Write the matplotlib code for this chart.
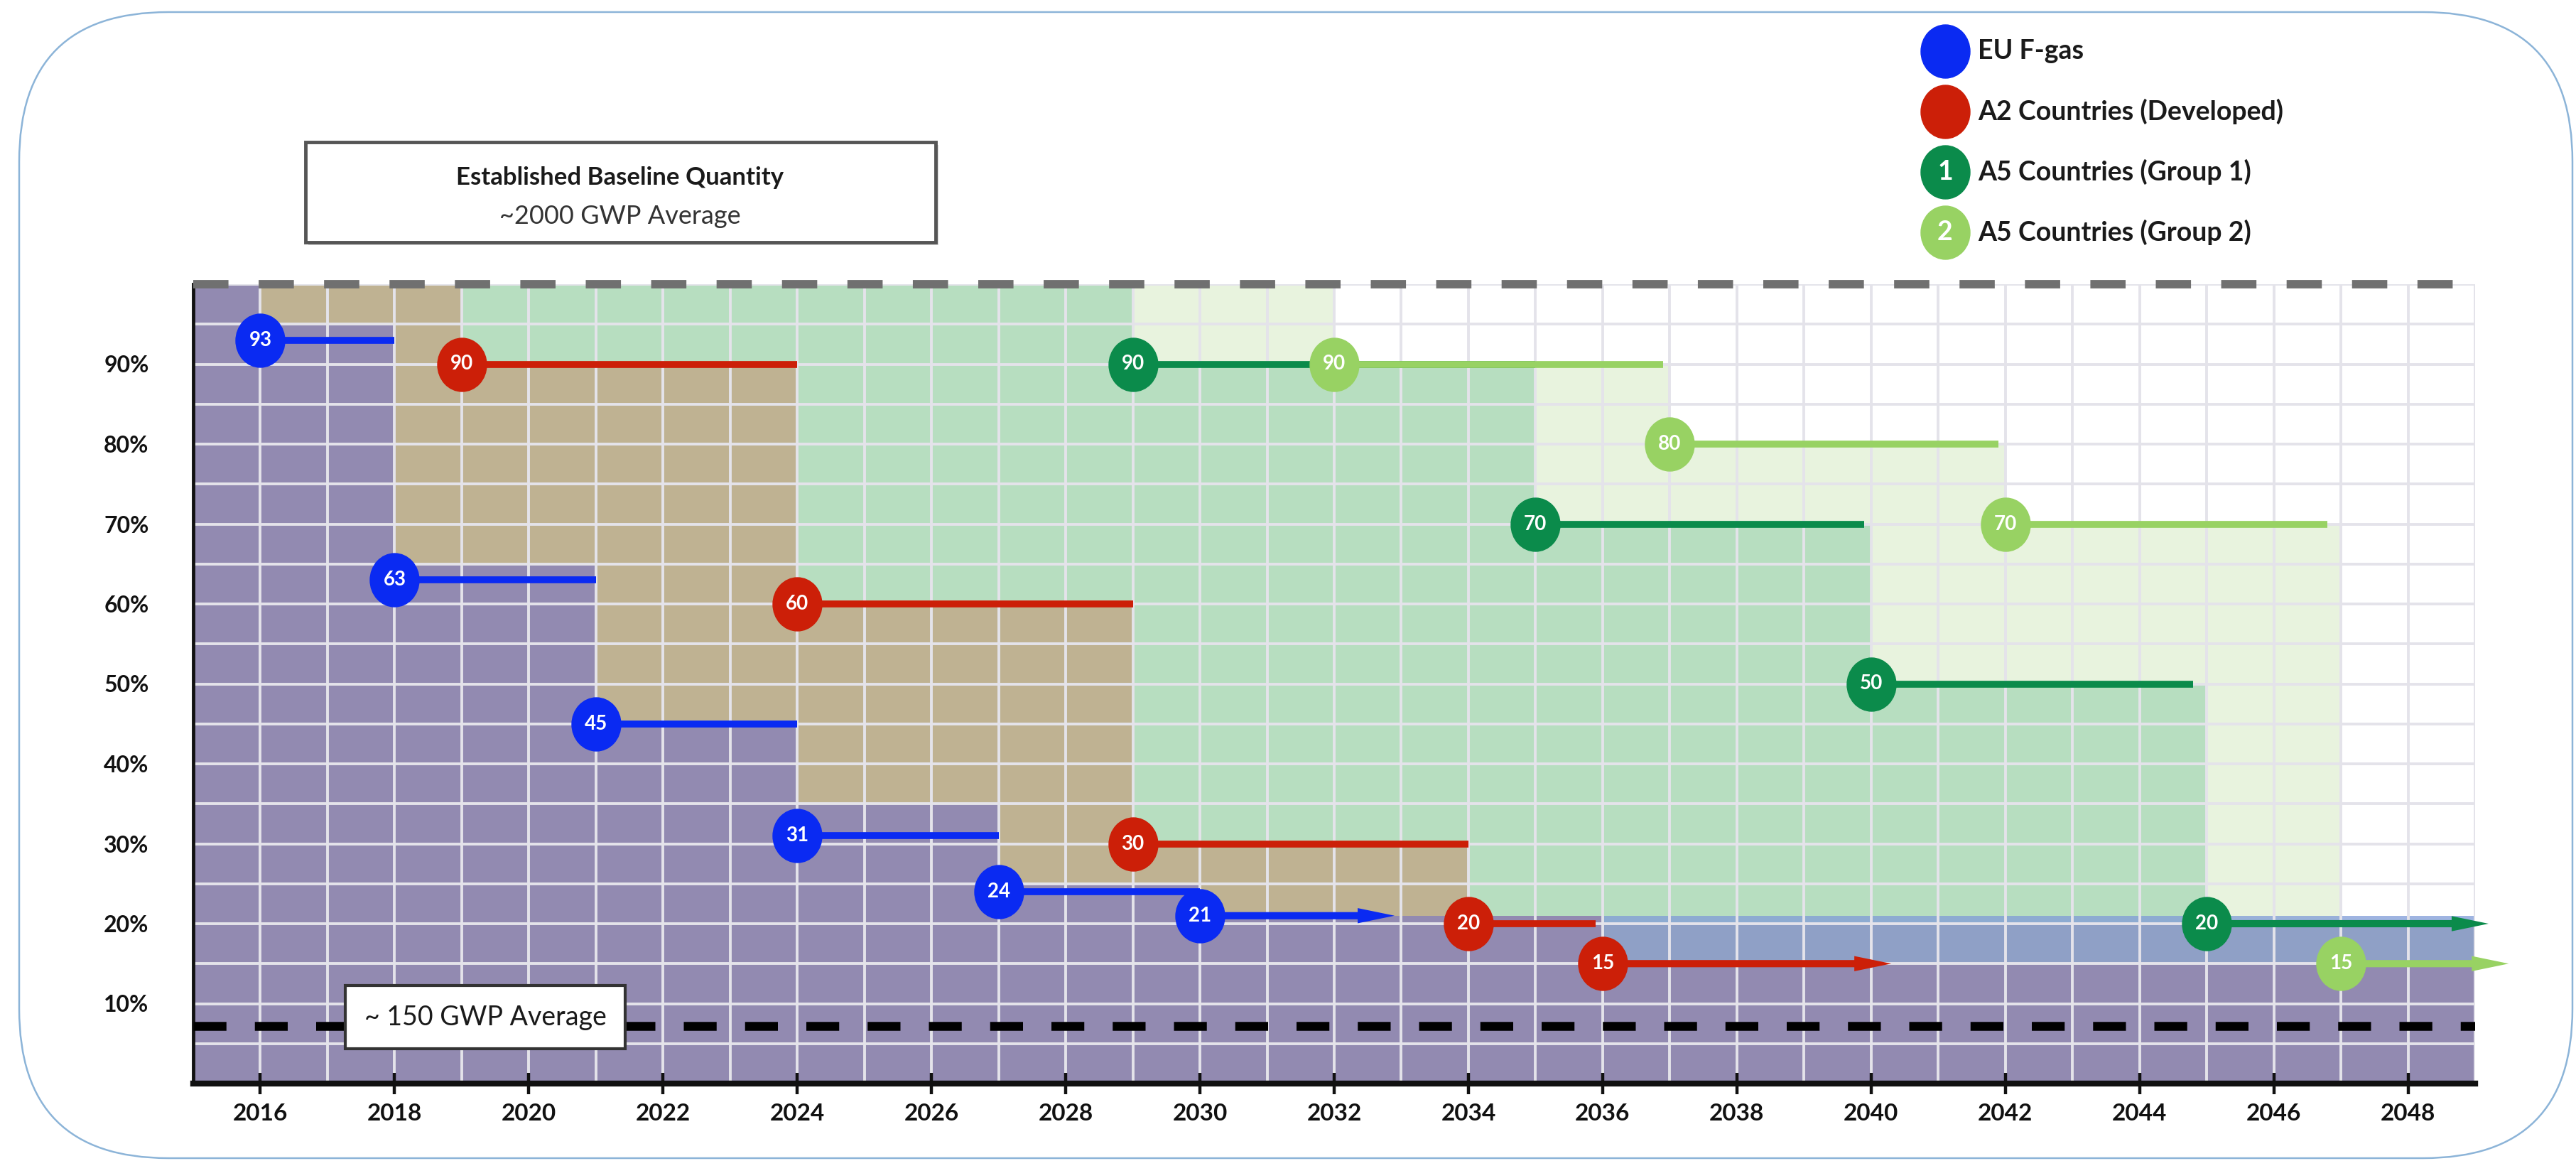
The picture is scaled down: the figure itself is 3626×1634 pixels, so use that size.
import matplotlib
matplotlib.use('Agg')
import matplotlib.pyplot as plt
from matplotlib.patches import FancyBboxPatch, Rectangle
from matplotlib.path import Path
from matplotlib.transforms import Affine2D

plt.rcParams['font.family'] = ['Lato', 'DejaVu Sans']

# --- shaded allowance areas (step edges and level of each step, % of baseline)
eu_area_x = [2015, 2016, 2018, 2021, 2024, 2027, 2030, 2036, 2049]
eu_area_y = [100, 95, 65, 45, 35, 25, 21, 15]
a2_area_x = [2015, 2019, 2024, 2029, 2034, 2049]
a2_area_y = [100, 90, 60, 30, 20]
g1_area_x = [2015, 2029, 2035, 2040, 2045]
g1_area_y = [100, 90, 70, 50]
g2_area_x = [2015, 2032, 2037, 2042, 2047]
g2_area_y = [100, 90, 80, 70]
tail_x = [2036, 2049]
tail_lo = [15, 15]
tail_hi = [21, 21]

# --- phase-down steps: start year, end of bar, percent
eu_start = [2016, 2018, 2021, 2024, 2027, 2030]
eu_end = [2018, 2021, 2024, 2027, 2030, 2032.9]
eu_pct = [93, 63, 45, 31, 24, 21]

a2_start = [2019, 2024, 2029, 2034, 2036]
a2_end = [2024, 2029, 2034, 2035.9, 2040.3]
a2_pct = [90, 60, 30, 20, 15]

g1_start = [2029, 2035, 2040, 2045]
g1_end = [2035, 2039.9, 2044.8, 2049.2]
g1_pct = [90, 70, 50, 20]

g2_start = [2032, 2037, 2042, 2047]
g2_end = [2036.9, 2041.9, 2046.8, 2049.5]
g2_pct = [90, 80, 70, 15]

baseline_gwp = 7.2   # ~150 GWP average level

legend_labels = ['EU F-gas', 'A2 Countries (Developed)', 'A5 Countries (Group 1)', 'A5 Countries (Group 2)']
legend_marks = ['', '', '1', '2']

# colours
c_eu, c_a2, c_g1, c_g2 = '#0a2af2', '#cc1f08', '#0b8b4b', '#98d263'
f_eu, f_a2, f_g1, f_g2 = '#928ab1', '#bfb292', '#b7dec0', '#e8f3de'

# slightly tall oval used for the numbered badges
oval = Path.unit_circle().transformed(Affine2D().scale(0.92, 1.0))

W, H = 3626, 1634
fig = plt.figure(figsize=(W / 100, H / 100), dpi=100)
fig.patch.set_facecolor('white')

ax = fig.add_axes([272 / W, 1 - 1525 / H, (3484 - 272) / W, (1525 - 400) / H])
ax.set_xlim(2015, 2049)
ax.set_ylim(0, 100)
ax.set_facecolor('white')


def step_fill(xs, ys, color):
    ax.fill_between(xs, 0, list(ys) + [ys[-1]], step='post', color=color, lw=0, zorder=1)


step_fill(g2_area_x, g2_area_y, f_g2)
step_fill(g1_area_x, g1_area_y, f_g1)
step_fill(a2_area_x, a2_area_y, f_a2)
ax.fill_between(tail_x, tail_lo, tail_hi, color='#7f9bd8', alpha=0.75, lw=0, zorder=1)
step_fill(eu_area_x, eu_area_y, f_eu)

# grid: every year / every 5 %
ax.set_xticks(range(2016, 2049, 2))
ax.set_xticks(range(2015, 2050), minor=True)
ax.set_yticks(range(10, 100, 10))
ax.set_yticklabels([f'{v}%' for v in range(10, 100, 10)])
ax.set_yticks(range(5, 101, 5), minor=True)
ax.grid(True, which='both', color='#e4e3ea', lw=2.8)

ax.tick_params(axis='x', which='major', direction='inout', length=22, width=3.2,
               pad=9, labelsize=24, colors='#111111')
ax.tick_params(axis='both', which='minor', length=0)
ax.tick_params(axis='y', which='major', length=0, pad=45, labelsize=23, colors='#111111')
for lab in ax.get_xticklabels() + ax.get_yticklabels():
    lab.set_fontweight('bold')

for s in ['top', 'right']:
    ax.spines[s].set_visible(False)
ax.spines['left'].set_linewidth(3.5)
ax.spines['bottom'].set_linewidth(6)
ax.spines['left'].set_color('#111111')
ax.spines['bottom'].set_color('#111111')

# dashed reference lines
ax.axhline(100, color='#707070', lw=8.5, dashes=(4.2, 3.6), zorder=3, clip_on=False)
ax.axhline(baseline_gwp, color='black', lw=9, dashes=(3.7, 3.2), zorder=3)
ax.text(2019.35, 8.3, '~ 150 GWP Average', fontsize=27, ha='center', va='center', zorder=8,
        color='#1a1a1a',
        bbox=dict(boxstyle='square,pad=0.7', fc='white', ec='#333333', lw=3))

# phase-down bars with numbered badges
series = [
    (eu_start, eu_end, eu_pct, c_eu),
    (a2_start, a2_end, a2_pct, c_a2),
    (g1_start, g1_end, g1_pct, c_g1),
    (g2_start, g2_end, g2_pct, c_g2),
]
for starts, ends, pcts, col in series:
    n = len(starts)
    for i, (s, e, p) in enumerate(zip(starts, ends, pcts)):
        if i == n - 1:
            ax.arrow(s, p, e - s, 0, width=0.9, head_width=1.9, head_length=0.55,
                     length_includes_head=True, color=col, lw=0, zorder=5, clip_on=False)
        else:
            ax.plot([s, e], [p, p], color=col, lw=7, solid_capstyle='butt', zorder=5)
    for s, p in zip(starts, pcts):
        ax.plot(s, p, marker=oval, ms=54, color=col, mec=col, ls='none', zorder=6, clip_on=False)
        ax.text(s, p, str(p), color='white', ha='center', va='center', fontsize=20,
                fontweight='bold', zorder=7)

# overlay in pixel coordinates: frame, baseline box, legend
ov = fig.add_axes([0, 0, 1, 1], zorder=10)
ov.set_xlim(0, W)
ov.set_ylim(H, 0)
ov.axis('off')

ov.add_patch(FancyBboxPatch((27, 17), 3594, 1613, boxstyle='round,pad=0,rounding_size=210',
                            fc='none', ec='#8cb4d8', lw=1.8))

ov.add_patch(Rectangle((434, 204), 887, 141, fc='#bbbbbb', ec='none', alpha=0.6))
ov.add_patch(Rectangle((430, 200), 887, 141, fc='white', ec='#555555', lw=3.5))
ov.text(873, 250, 'Established Baseline Quantity', fontsize=25, fontweight='bold',
        ha='center', va='center', color='#1a1a1a')
ov.text(873, 304, '~2000 GWP Average', fontsize=26, ha='center', va='center', color='#333333')

legend_cols = [c_eu, c_a2, c_g1, c_g2]
for k, (lab, mk, col) in enumerate(zip(legend_labels, legend_marks, legend_cols)):
    y = 72 + k * 85
    ov.plot(2738, y, marker=oval, ms=54, color=col, mec=col, ls='none')
    if mk:
        ov.text(2738, y, mk, color='white', fontsize=27, fontweight='bold', ha='center', va='center')
    ov.text(2784, y, lab, fontsize=27, fontweight='bold', ha='left', va='center', color='#1a1a1a')

fig.savefig('out.png', dpi=100, facecolor='white')
